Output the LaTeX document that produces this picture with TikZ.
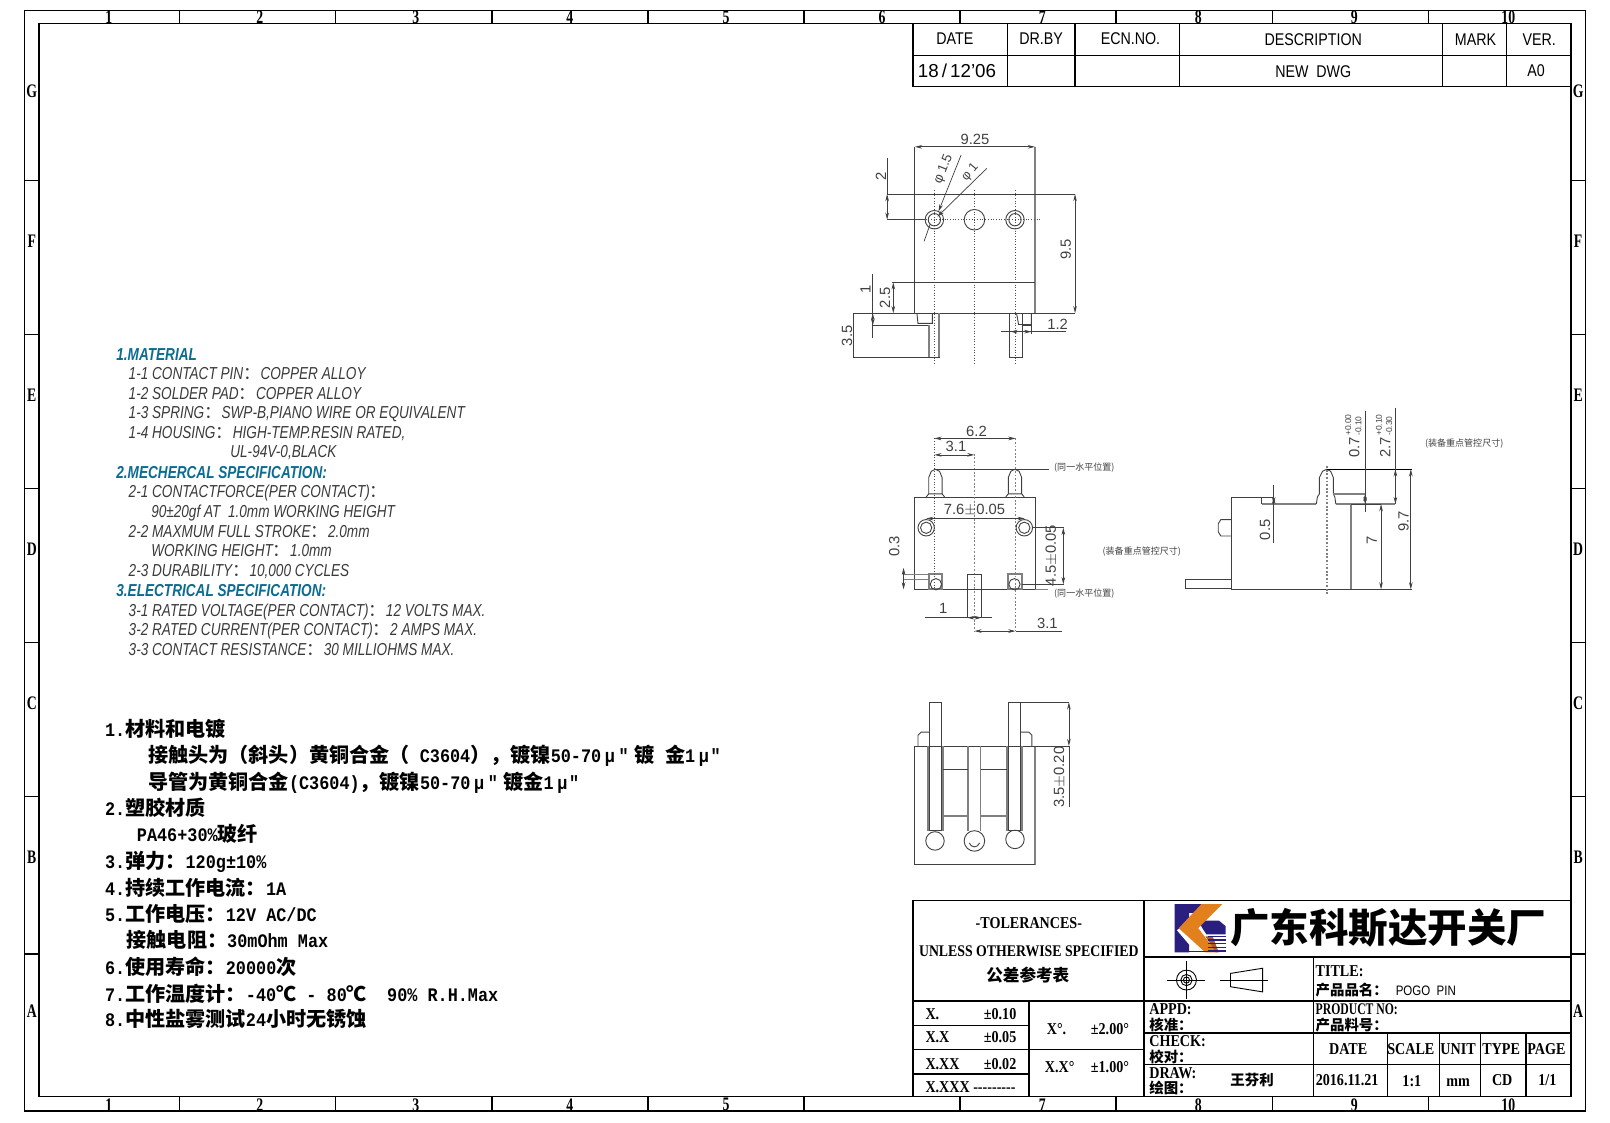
\documentclass[tikz,border=0pt]{standalone}
\usepackage{fontspec}
\usetikzlibrary{arrows.meta}
\setmainfont{Liberation Sans}
\newfontfamily\cjk{Noto Sans CJK SC}
\newfontfamily\notefont[FakeStretch=0.785]{Liberation Sans}
\newfontfamily\cadfont[FakeStretch=0.84]{Liberation Sans}
\newfontfamily\boxfont[FakeStretch=0.85]{Liberation Serif}
\newfontfamily\tightfont[FakeStretch=0.72]{Liberation Serif}
\newfontfamily\monofont[FakeStretch=0.88]{Liberation Mono}
\newcommand{\zh}[1]{{\cjk #1}}
\newcommand{\zhb}[1]{{\cjk\fontsize{11.15}{12}\selectfont\bfseries #1}}
\definecolor{noteblue}{HTML}{0B6C93}
\definecolor{notegray}{HTML}{3A3A3A}
\definecolor{logonavy}{HTML}{2A1E7E}
\definecolor{logoorange}{HTML}{E2801E}
\definecolor{logobrown}{HTML}{A85A30}
\tikzset{
  frameline/.style={line width=0.75pt,black},
  part/.style={line width=0.5pt,black!75},
  heavy/.style={line width=1pt,black!50},
  centre/.style={line width=0.5pt,black!70,densely dotted},
  dimline/.style={line width=0.4pt,black!75,{Stealth[length=4pt,width=2pt]}-{Stealth[length=4pt,width=2pt]}},
  ext/.style={line width=0.4pt,black!75},
  dimtxt/.style={inner sep=0pt,text=black!75,font=\fontsize{8.2}{9}\selectfont},
  smalltxt/.style={inner sep=0pt,text=black!75,font=\fontsize{4.7}{6}\selectfont},
  tinytxt/.style={inner sep=0pt,text=black!75,font=\cjk\fontsize{5}{6}\selectfont},
  zonetxt/.style={inner sep=0pt,font=\tightfont\bfseries\fontsize{10.6}{11}\selectfont},
  revtxt/.style={inner sep=0pt,font=\cadfont\fontsize{9.4}{10}\selectfont},
  boxtxt/.style={inner sep=0pt,font=\boxfont\bfseries\fontsize{9.2}{10}\selectfont},
  notehead/.style={anchor=base west,inner sep=0pt,text=noteblue,font=\notefont\bfseries\itshape\fontsize{9.6}{10}\selectfont},
  noteline/.style={anchor=base west,inner sep=0pt,text=notegray,font=\notefont\itshape\fontsize{9.6}{10}\selectfont},
  zhline/.style={anchor=base west,inner sep=0pt,font=\monofont\bfseries\fontsize{10.6}{11}\selectfont}
}
\begin{document}
\begin{tikzpicture}[x=0.02cm,y=-0.02cm]
  \useasboundingbox (0,0) rectangle (1568,1092.8);
  \coordinate (ol) at (24,10);
  \coordinate (or) at (1544,1082);
  \coordinate (il) at (38,23);
  \coordinate (ir) at (1530,1068);
  \draw[frameline] (ol) rectangle (or);
  \draw[frameline] (il) rectangle (ir);

  \foreach \x in {175,327,479,631,783,935,1087,1239,1391} {
    \draw[frameline] (\x,10) -- (\x,23);
    \draw[frameline] (\x,1068) -- (\x,1082);
  }
  \foreach \y in {176,326,476,626,776,929} {
    \draw[frameline] (24,\y) -- (38,\y);
    \draw[frameline] (1530,\y) -- (1544,\y);
  }
  \foreach \x/\t [count=\i] in {106/1,253/2,405/3,555/4,707/5,859/6,1015/7,1167/8,1319/9,1469/10}
    \node[zonetxt] (zt\i) at (\x,17) {\t};
  \foreach \x/\t [count=\i] in {106/1,253/2,405/3,555/4,707/5,1015/7,1167/8,1319/9,1469/10}
    \node[zonetxt] (zb\i) at (\x,1076) {\t};
  \foreach \y/\t [count=\i] in {89/G,235/F,385/E,535/D,685/C,835/B,985/A} {
    \node[zonetxt] (zl\i) at (31,\y) {\t};
    \node[zonetxt] (zr\i) at (1537,\y) {\t};
  }

  % revision table
  \draw[frameline] (889,23) -- (889,84) -- (1530,84);
  \draw[frameline] (889,54) -- (1530,54);
  \foreach \x in {981,1047,1149,1405,1467}
    \draw[frameline] (\x,23) -- (\x,84);
  \foreach \x/\y/\t [count=\i] in {930/38/DATE,1014/38/DR.BY,1101/38/ECN.NO.,1279/39/DESCRIPTION,1437/39/MARK,1499/39/VER.,1279/70/NEW\ \ DWG,1496/69/A0}
    \node[revtxt] (rev\i) at (\x,\y) {\t};
  \node[inner sep=0pt,font=\fontsize{10.4}{11}\selectfont] (revdate) at (932,69) {18\,/\,12'06};

  % title block
  \draw[frameline] (889,877) rectangle (1530,1068);
  \draw[frameline] (1114,877) -- (1114,1068);
  \draw[frameline] (1114,932) -- (1530,932);
  \draw[frameline] (889,975) -- (1530,975);
  \draw[frameline] (1114,1006) -- (1530,1006);
  \draw[frameline] (1114,1037) -- (1530,1037);
  \draw[frameline] (1279,932) -- (1279,1068);
  \draw[frameline] (1002,975) -- (1002,1068);
  \foreach \y in {999,1022,1046}
    \draw[frameline] (889,\y) -- (1002,\y);
  \draw[frameline] (1002,1022) -- (1114,1022);
  \foreach \x in {1351,1402,1442,1486}
    \draw[frameline] (\x,1006) -- (\x,1068);

  \node[boxtxt] (tolhead) at (1002,899) {-TOLERANCES-};
  \node[boxtxt,font=\boxfont\bfseries\fontsize{9}{10}\selectfont] (tolsub) at (1002,926) {UNLESS OTHERWISE SPECIFIED};
  \node[inner sep=0pt,font=\cjk\bfseries\fontsize{9.2}{10}\selectfont] (tolzh) at (1001,950) {公差参考表};
  \foreach \x/\y/\t [count=\i] in {974/988/±0.10,974/1010/±0.05,974/1036/±0.02,1029/1002/X°.,1081/1002/±2.00°,1032/1039/X.X°,1081/1039/±1.00°,1313/1022/DATE,1374/1022/SCALE,1420/1022/UNIT,1462/1022/TYPE,1506/1022/PAGE,1312/1052/2016.11.21,1375/1053/1:1,1420/1054/mm,1463/1052/CD,1507/1052/1\slash 1}
    \node[boxtxt] (tol\i) at (\x,\y) {\t};
  \foreach \y/\t [count=\i] in {988/X.,1010/X.X,1036/X.XX,1059/X.XXX\ ---------}
    \node[boxtxt,anchor=west] (tolx\i) at (901,\y) {\t};
  \foreach \x/\y/\t [count=\i] in {1119/983/APPD:,1119/1014/CHECK:,1119/1045/DRAW:,1281/946/TITLE:}
    \node[boxtxt,anchor=west] (hd\i) at (\x,\y) {\t};
  \node[anchor=west,inner sep=0pt,font=\tightfont\bfseries\fontsize{9}{10}\selectfont] (hdno) at (1281,983) {PRODUCT NO:};
  \foreach \x/\y/\t [count=\i] in {1119/998/核准：,1119/1029/校对：,1119/1060/绘图：,1281/998/产品料号：,1281/964/产品品名：,1198/1052/王芬利}
    \node[inner sep=0pt,anchor=west,font=\cjk\bfseries\fontsize{8}{9}\selectfont] (hz\i) at (\x,\y) {\t};
  \node[revtxt,anchor=west,font=\cadfont\fontsize{7.6}{8}\selectfont] (pname) at (1359,965) {POGO\ \ PIN};
  \node[inner sep=0pt,font=\cjk\bfseries\fontsize{21.9}{24}\selectfont] (company) at (1352,904) {广东科斯达开关厂};

  % logo
  \fill[logonavy] (1144,880.5) -- (1170,880.5) -- (1170,889) -- (1158,889) -- (1158,896) -- (1146,906) -- (1158,920) -- (1158,927.6) -- (1144,927.6) -- cycle;
  \fill[logonavy] (1167,896.5) -- (1187,896.5) -- (1193.7,902) -- (1193.7,910) -- (1175,910) -- (1171,904) -- cycle;
  \fill[logoorange] (1170,880.5) -- (1190.5,880.5) -- (1167,904) -- (1185,927.6) -- (1174,927.6) -- (1148,904) -- cycle;
  \fill[logobrown] (1174,912) -- (1181,912) -- (1187,927.6) -- (1184,927.6) -- cycle;
  \foreach \y in {912,915.5,919,922.5,926}
    \draw[logonavy,line width=0.7pt] (1176,\y) -- (1193.7,\y);
  \draw[logonavy,line width=0.7pt] (1158,927) -- (1193.7,927);

  % drawing symbols
  \coordinate (sym) at (1155.5,954.5);
  \draw[part,black] (sym) circle[radius=9.7] (sym) circle[radius=5.5] (sym) circle[radius=3];
  \draw[part,black] (1137,954.5) -- (1174,954.5) (1155.5,936) -- (1155.5,973);
  \draw[part,black] (1198.4,948) -- (1229.6,943) -- (1229.6,966) -- (1198.4,961) -- cycle;
  \draw[part,black] (1188.6,954.5) -- (1235,954.5);

  % english notes
  \node[notehead] (mat) at (113,351) {1.MATERIAL};
  \node[notehead] (mec) at (113,466) {2.MECHERCAL SPECIFICATION:};
  \node[notehead] (ele) at (113,581) {3.ELECTRICAL SPECIFICATION:};
  \foreach \x/\y/\t [count=\i] in {
    125/370/{1-1 CONTACT PIN\zh{：}COPPER ALLOY},
    125/389/{1-2 SOLDER PAD\zh{：}COPPER ALLOY},
    125/408/{1-3 SPRING\zh{：}SWP-B,PIANO WIRE OR EQUIVALENT},
    125/427/{1-4 HOUSING\zh{：}HIGH-TEMP.RESIN RATED,},
    224/446/{UL-94V-0,BLACK},
    125/485/{2-1 CONTACTFORCE(PER CONTACT)\zh{：}},
    147/504/{90±20gf AT\ \ 1.0mm WORKING HEIGHT},
    125/523/{2-2 MAXMUM FULL STROKE\zh{：}2.0mm},
    147/542/{WORKING HEIGHT\zh{：}1.0mm},
    125/561/{2-3 DURABILITY\zh{：}10,000 CYCLES},
    125/600/{3-1 RATED VOLTAGE(PER CONTACT)\zh{：}12 VOLTS MAX.},
    125/619/{3-2 RATED CURRENT(PER CONTACT)\zh{：}2 AMPS MAX.},
    125/638/{3-3 CONTACT RESISTANCE\zh{：}30 MILLIOHMS MAX.}}
    \node[noteline] (en\i) at (\x,\y) {\t};

  % chinese notes
  \foreach \x/\y/\t [count=\i] in {
    102/717/{1.\zhb{材料和电镀}},
    144/743/{\zhb{接触头为（斜头）黄铜合金（} C3604\zhb{），镀镍}50-70\kern2pt μ\kern2pt"\kern3pt\zhb{镀}\kern6pt\zhb{金}1\kern2pt μ\kern1pt"},
    144/769/{\zhb{导管为黄铜合金}(C3604)\zhb{，镀镍}50-70\kern2pt μ\kern2pt"\kern3pt\zhb{镀金}1\kern2pt μ\kern1pt"},
    102/794/{2.\zhb{塑胶材质}},
    133/820/{PA46+30\%\zhb{玻纤}},
    102/846/{3.\zhb{弹力：}120g±10\%},
    102/872/{4.\zhb{持续工作电流：}1A},
    102/897/{5.\zhb{工作电压：}12V AC/DC},
    123/923/{\zhb{接触电阻：}30mOhm Max},
    102/949/{6.\zhb{使用寿命：}20000\zhb{次}},
    102/975/{7.\zhb{工作温度计：}-40\zhb{℃} - 80\zhb{℃}\ \ 90\% R.H.Max},
    102/1000/{8.\zhb{中性盐雾测试}24\zhb{小时无锈蚀}}}
    \node[zhline] (cn\i) at (\x,\y) {\t};

  % top view
  \coordinate (tl) at (891,143);
  \coordinate (tr) at (1008,143);
  \coordinate (bl) at (891,305);
  \coordinate (br) at (1008,305);
  \draw[part] (tl) -- (bl) -- (br);
  \draw[heavy] (tr) -- (br);
  \draw[dimline] (tl) -- (tr) node[dimtxt,pos=0.5,yshift=4.2pt] (d925) {9.25};
  \draw[ext] (864,189) -- (1047,189);
  \draw[ext] (869,275) -- (1008,275);
  \draw[ext] (831,305) -- (915,305) (984,305) -- (1047,305);
  \draw[ext] (864,154) -- (864,189) (864,214) -- (901,214);
  \draw[dimline] (864,189) -- (864,214);
  \node[dimtxt,rotate=90] (d2) at (858,172) {2};
  \draw[dimline] (1047,189) -- (1047,305);
  \node[dimtxt,rotate=90] (d95) at (1038,243) {9.5};
  \draw[dimline] (870,275) -- (870,305);
  \node[dimtxt,rotate=90] (d25) at (862,290) {2.5};
  \draw[ext] (850,267) -- (850,329) (850,317) -- (906,317);
  \draw[dimline] (850,305) -- (850,317);
  \node[dimtxt,rotate=90] (d1) at (843,282) {1};
  \draw[part] (831,305) -- (831,348) -- (915,348);
  \node[dimtxt,rotate=90] (d35) at (825,327) {3.5};
  \draw[heavy] (905,317) -- (905,348) (914.5,305) -- (914.5,348);
  \draw[part] (893,305) -- (894,315) -- (908,315) -- (908,305);
  \draw[part] (983.5,305) -- (983.5,348) -- (996,348) -- (996,305);
  \draw[part] (990,305) -- (992,316) -- (1004.5,316) -- (1004.5,305);
  \draw[ext] (996,317) -- (1004.5,317) (1004.5,316) -- (1004.5,325);
  \draw[ext] (975,323) -- (1038,323);
  \draw[dimline] (984,323) -- (1004.5,323);
  \node[dimtxt] (d12) at (1030,316) {1.2};
  \foreach \x in {910,949,988.5}
    \draw[centre] (\x,185) -- (\x,355);
  \draw[centre] (883,214) -- (1013,214);
  \foreach \x in {910,988.5}
    \draw[part] (\x,214) circle[radius=9] (\x,214) circle[radius=6];
  \draw[part] (949,214) circle[radius=10];
  \draw[ext,->,>={Stealth[length=4pt,width=2pt]}] (936,151) -- (914,206);
  \draw[ext,->,>={Stealth[length=4pt,width=2pt]}] (961,164) -- (913,211);
  \draw[ext] (906,218) -- (900,235);
  \node[dimtxt,rotate=68,font=\fontsize{7.4}{8}\selectfont] (dphi15) at (919,165) {φ 1.5};
  \node[dimtxt,rotate=50,font=\fontsize{7}{8}\selectfont] (dphi1) at (945,168) {φ 1};

  % front view
  \draw[part] (891,484) rectangle (1008,574);
  \foreach \cx in {911,988.5} {
    \draw[part] ({\cx-6.5},481) -- ({\cx-6.5},465) -- ({\cx-4},459) -- ({\cx},457) -- ({\cx+4},459) -- ({\cx+6.5},465) -- ({\cx+6.5},481);
    \draw[part] ({\cx-9},484) -- ({\cx-6.5},481) -- ({\cx+6.5},481) -- ({\cx+9},484);
    \draw[heavy] ({\cx-6.5},574) -- ({\cx-6.5},559.4) -- ({\cx+6.5},559.4) -- ({\cx+6.5},574) -- cycle;
  }
  \draw[part] (911.5,569) circle[radius=5.5] (988,569) circle[radius=5.5];
  \draw[centre] (910,427) -- (910,574);
  \draw[heavy,densely dotted] (949,442) -- (949,615);
  \draw[heavy,densely dotted] (989,427) -- (989,615);
  \draw[dimline] (910,427) -- (989,427);
  \node[dimtxt] (d62) at (951,420) {6.2};
  \draw[dimline] (910,443) -- (949,443);
  \node[dimtxt] (d31a) at (931,435) {3.1};
  \draw[ext] (910,457) -- (1022,457);
  \node[tinytxt] (lev1) at (1056,455) {(同一水平位置)};
  \node[tinytxt] (lev2) at (1056,578) {(同一水平位置)};
  \node[tinytxt] (keya) at (1112,537) {(装备重点管控尺寸)};
  \node[tinytxt] (keyb) at (1426,432) {(装备重点管控尺寸)};
  \draw[dimline] (902,505) -- (998,505);
  \node[dimtxt] (d76) at (949,497) {7.6$\pm$0.05};
  \draw[part] (902,514) circle[radius=8] (902,514) circle[radius=5.5];
  \draw[part] (997.6,514) circle[radius=8] (997.6,514) circle[radius=5.5];
  \draw[part] (942,601.6) -- (942,559.4) -- (956,559.4) -- (956,601.6);
  \draw[ext] (901,601.6) -- (966,601.6);
  \draw[dimline] (942,601.6) -- (956,601.6);
  \node[dimtxt] (d1a) at (918.6,593) {1};
  \draw[dimline] (949,614.6) -- (989,614.6);
  \draw[ext] (989,614.6) -- (1034,614.6);
  \node[dimtxt] (d31b) at (1020,607) {3.1};
  \draw[ext] (1006,514) -- (1036,514) (995,569) -- (1036,569);
  \draw[dimline] (1035.6,514) -- (1035.6,569);
  \node[dimtxt,rotate=90] (d45) at (1024,541) {4.5$\pm$0.05};
  \draw[ext,black!50] (1008,574) -- (1021,574) (880,559.4) -- (904.6,559.4) (880,564) -- (904.6,564);
  \draw[dimline] (880,553) -- (880,574);
  \node[dimtxt,rotate=90] (d03) at (871,532) {0.3};

  % side view
  \draw[part] (1229,491) -- (1229,484) -- (1199,484) -- (1199,574) -- (1375,574);
  \draw[heavy] (1229,491) -- (1282,491) (1301,491) -- (1359,491);
  \draw[heavy] (1316,491) -- (1316,574);
  \draw[part] (1199,506) -- (1189,506) -- (1186.5,510) -- (1186.5,518) -- (1189,522) -- (1199,522);
  \draw[part] (1199,564) -- (1154.6,564) -- (1154.6,573) -- (1199,573);
  \draw[part] (1282,491) -- (1283,484) -- (1285,481) -- (1285,465) -- (1288,459) -- (1292,457) -- (1296,459) -- (1298.5,465) -- (1298.5,481) -- (1300,484) -- (1301,491);
  \draw[heavy] (1298.5,481) -- (1330,481);
  \draw[heavy,densely dotted] (1292,454) -- (1292,580);
  \draw[part,black] (1292,457) -- (1375,457);
  \draw[ext] (1329.5,400) -- (1329.5,499);
  \draw[dimline] (1329.5,481) -- (1329.5,491);
  \draw[ext] (1359,397) -- (1359,491);
  \draw[dimline] (1359,457) -- (1359,491);
  \draw[dimline] (1374,457) -- (1374,574);
  \draw[dimline] (1345,491) -- (1345,574);
  \draw[part] (1316,491) -- (1345,491);
  \draw[ext] (1229,484) -- (1240.5,484) (1240.5,472) -- (1240.5,529);
  \draw[dimline] (1240.5,484) -- (1240.5,491);
  \node[dimtxt,rotate=90] (d07) at (1319,436) {0.7};
  \node[smalltxt,rotate=90] (d07u) at (1313,414) {+0.00};
  \node[smalltxt,rotate=90] (d07l) at (1323,415) {-0.10};
  \node[dimtxt,rotate=90] (d27) at (1349,436) {2.7};
  \node[smalltxt,rotate=90] (d27u) at (1343,414) {+0.10};
  \node[smalltxt,rotate=90] (d27l) at (1353,415) {-0.30};
  \node[dimtxt,rotate=90] (d97) at (1367,508) {9.7};
  \node[dimtxt,rotate=90] (d7) at (1336,526) {7};
  \node[dimtxt,rotate=90] (d05) at (1232,516) {0.5};

  % back view
  \draw[part] (891,726.5) -- (891,842);
  \draw[heavy] (1008,726.5) -- (1008,842);
  \draw[part,line width=0.9pt] (891,842) -- (1008,842);
  \draw[part] (891,726.5) -- (1008,726.5);
  \draw[part] (894,726.5) -- (894,716) -- (897,713) -- (905,713);
  \draw[part] (1005,726.5) -- (1005,716) -- (1002,713) -- (993.7,713);
  \draw[part] (905,809) -- (905,684) -- (916.5,684) -- (916.5,809);
  \draw[part] (982.5,809) -- (982.5,684) -- (993.7,684) -- (993.7,809);
  \draw[heavy] (903.5,727) -- (903.5,809) (918,727) -- (918,809) (981,727) -- (981,809) (995,727) -- (995,809);
  \draw[part] (905,809) -- (916.5,809) (982.5,809) -- (993.7,809);
  \draw[heavy] (942.7,727) -- (942.7,809) (955,727) -- (955,809);
  \draw[part] (918,749) -- (942.7,749) (955,749) -- (981,749);
  \draw[heavy] (918,794.5) -- (942.7,794.5) (955,794.5) -- (981,794.5);
  \draw[part] (910.6,819) circle[radius=9] (949,819) circle[radius=10] (988.5,817.5) circle[radius=9];
  \draw[part] (944,821) .. controls (946,826) and (952,826) .. (954,821);
  \draw[ext] (993.7,684) -- (1041,684) (1008,726.5) -- (1041,726.5) (1041,726.5) -- (1041,786);
  \draw[dimline] (1041,684) -- (1041,726.5);
  \node[dimtxt,rotate=90] (d35b) at (1032,757) {3.5$\pm$0.20};
\end{tikzpicture}
\end{document}
